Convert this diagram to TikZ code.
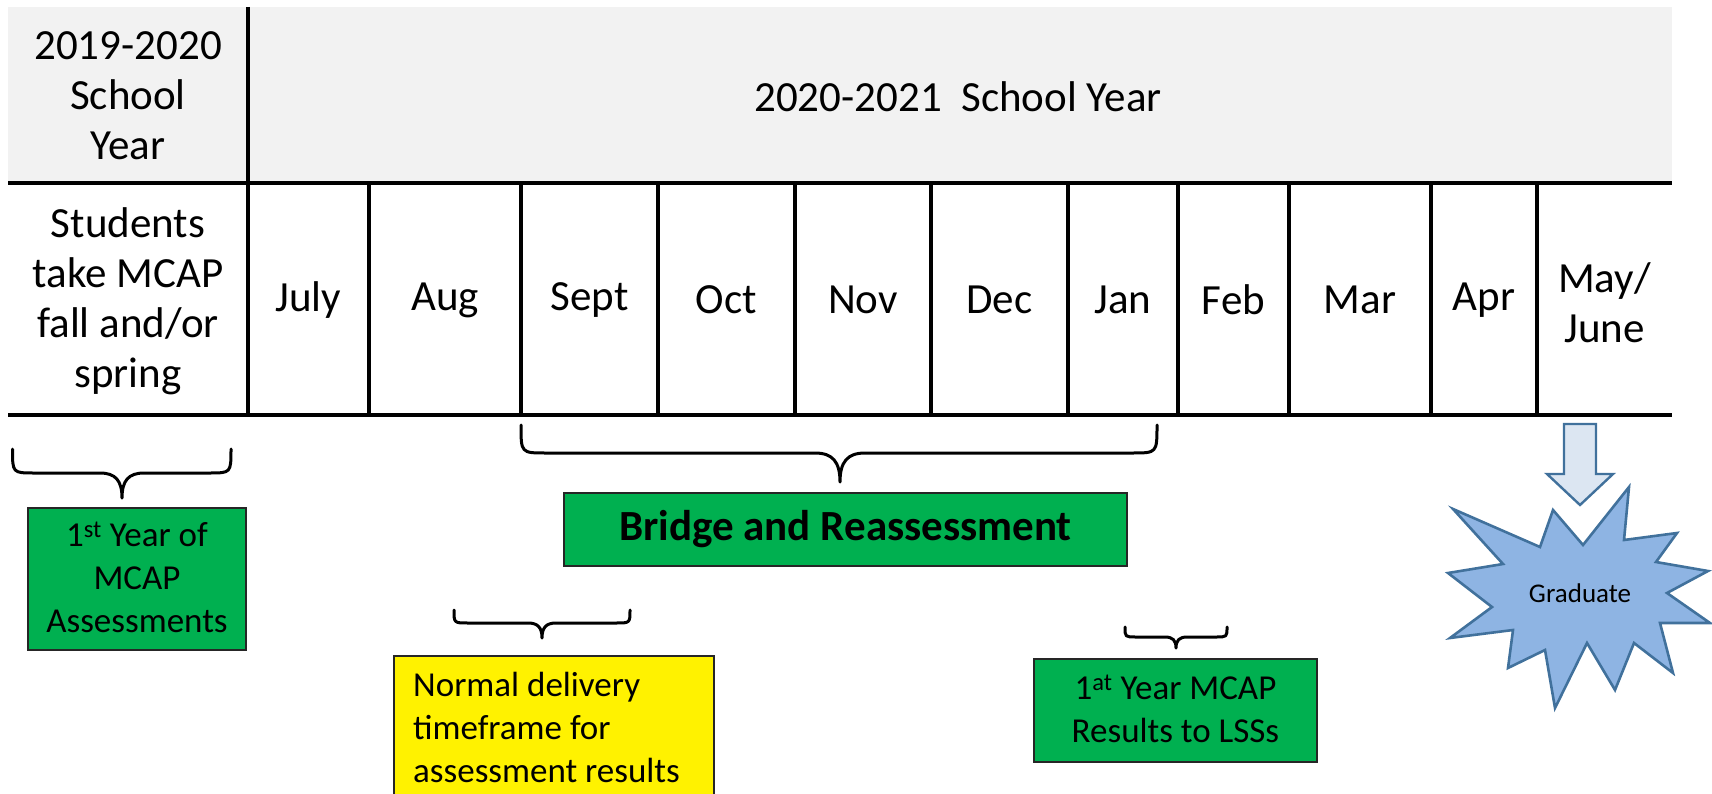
\documentclass[tikz,border=0pt]{standalone}
\usepackage{fontspec}
\setmainfont{Carlito}
\definecolor{hdrgrey}{HTML}{F2F2F2}
\definecolor{offgreen}{HTML}{00B050}
\definecolor{starfill}{HTML}{8EB4E3}
\definecolor{starline}{HTML}{41719C}
\definecolor{arrowfill}{HTML}{DCE6F2}
\newcommand\curlybrace[7]{% x1 x2 xm ytop yh ytip r
  \draw[bracestyle] (#1,#4) .. controls (#1,#5) and (#1,#5) .. ({#1+#7},#5)
    -- ({#3-#7},#5) .. controls ({#3-0.3*#7},#5) and (#3,{#5+0.3*(#6-#5)}) .. (#3,#6)
    .. controls (#3,{#5+0.3*(#6-#5)}) and ({#3+0.3*#7},#5) .. ({#3+#7},#5)
    -- ({#2-#7},#5) .. controls (#2,#5) and (#2,#5) .. (#2,#4);}
\begin{document}
\begin{tikzpicture}[x=1pt,y=-1pt,
  big/.style={font=\fontsize{43}{50}\selectfont, inner sep=0pt, align=center},
  small/.style={font=\fontsize{35}{43}\selectfont, inner sep=0pt, align=center},
  box/.style={draw=black!85, line width=1.6pt},
  gridline/.style={line width=4.3pt, black},
  bracestyle/.style={line width=3pt, line join=round, line cap=round},
  starstyle/.style={fill=starfill, draw=starline, line width=2.6pt, line join=miter},
  arrowstyle/.style={fill=arrowfill, draw=starline, line width=2.4pt, line join=miter}]
\clip (0,0) rectangle (1712,794);
% header band
\fill[hdrgrey] (8,7) rectangle (1672,183);
% table lines
\draw[gridline] (8,183) -- (1672,183);
\draw[gridline] (8,415) -- (1672,415);
\draw[gridline] (248,7) -- (248,417);
\foreach \xx in {369,521,658,795,931,1068,1178,1289,1431,1537}
  \draw[gridline] (\xx,183) -- (\xx,417);
% header texts
\node[big] (y19) at (128,96) {2019-2020\\School\\Year};
\node[big] (y20) at (958,97) {2020-2021~ School Year};
\node[big] (stud) at (128,301) {Students\\take MCAP\\fall and/or\\spring};
\node[big] (jul) at (308.5,300) {July};
\node[big] (aug) at (445,300) {Aug};
\node[big] (sep) at (589.5,300) {Sept};
\node[big] (oct) at (726.5,300) {Oct};
\node[big] (nov) at (863,300) {Nov};
\node[big] (dec) at (999.5,300) {Dec};
\node[big] (jan) at (1123,300) {Jan};
\node[big] (feb) at (1233.5,300) {Feb};
\node[big] (mar) at (1360,300) {Mar};
\node[big] (apr) at (1484,300) {Apr};
\node[big] (may) at (1604.5,303) {May/\\June};
% braces
\curlybrace{12.5}{231}{122}{449}{473}{498}{22}
\curlybrace{521}{1157}{840}{425}{453}{482}{25}
\curlybrace{454}{630}{542}{610}{623}{638}{14}
\curlybrace{1125}{1227}{1176}{627}{637}{648}{11}
% boxes
\node[box, fill=offgreen, minimum width=218pt, minimum height=142pt] (firstbox) at (137,579) {};
\node[small] (firsttxt) at (137,577) {1\textsuperscript{st} Year of\\MCAP\\Assessments};
\node[box, fill=offgreen, minimum width=563pt, minimum height=73pt] (bridgebox) at (845.5,529.5) {};
\node[big, font=\fontsize{43}{50}\selectfont\bfseries] (bridgetxt) at (845.5,529.5) {Bridge and Reassessment};
\node[box, fill=yellow, minimum width=320pt, minimum height=190pt, anchor=north west] (yellowbox) at (393,655) {};
\node[small, align=left, anchor=west] (yellowtxt) at (413,727) {Normal delivery\\timeframe for\\assessment results};
\node[box, fill=offgreen, minimum width=283pt, minimum height=103pt] (lssbox) at (1175.5,710.5) {};
\node[small] (lsstxt) at (1175.5,709) {1\textsuperscript{at} Year MCAP\\Results to LSSs};
% block arrow
\draw[arrowstyle] (1564,424) -- (1596,424) -- (1596,474) -- (1613,474) -- (1580,505) -- (1547,474) -- (1564,474) -- cycle;
% starburst
\draw[starstyle] (1553,510) -- (1583,545) -- (1629,487) -- (1624,540) -- (1677,533) -- (1656,562)
  -- (1708,571) -- (1667,593) -- (1710,623) -- (1660,623) -- (1673,673) -- (1634,643)
  -- (1615,690) -- (1587,643) -- (1555,708) -- (1545,650) -- (1508,668) -- (1513,630)
  -- (1450,638) -- (1492,607) -- (1448,573) -- (1503,564) -- (1453,509) -- (1540,547) -- cycle;
\node[font=\fontsize{27}{32}\selectfont, inner sep=0pt] (grad) at (1580,593) {Graduate};
\end{tikzpicture}
\end{document}
